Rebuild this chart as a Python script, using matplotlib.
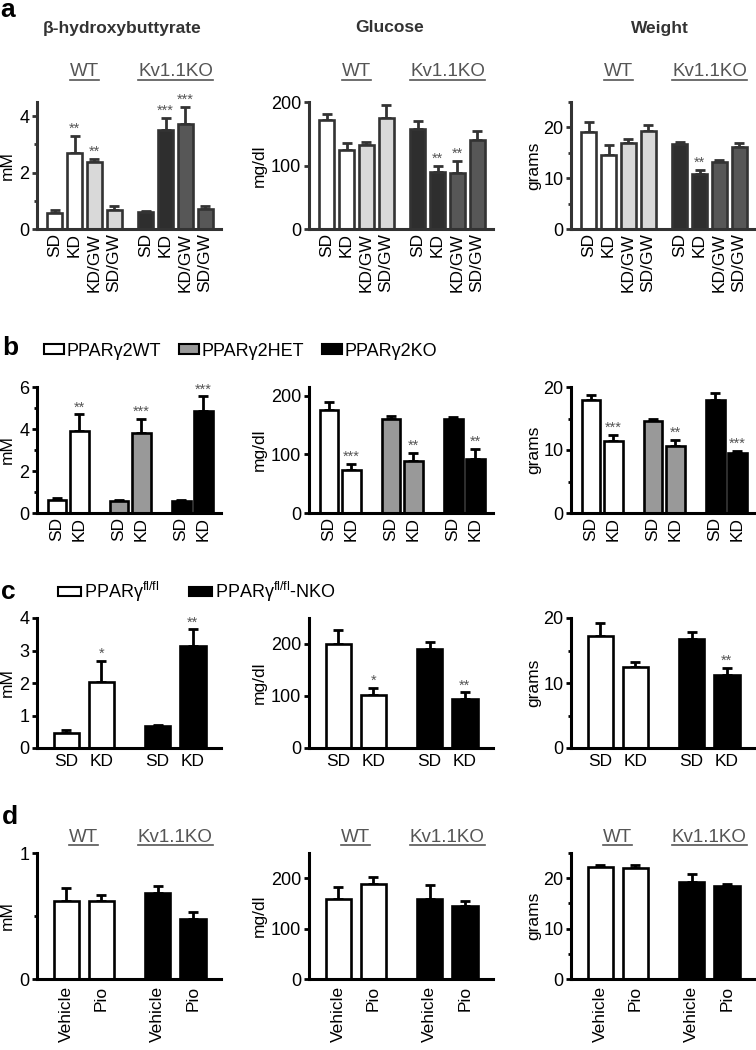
import numpy as np
import matplotlib
matplotlib.use("Agg")
import matplotlib.pyplot as plt
import matplotlib.transforms as mtransforms
from matplotlib.patches import Patch
from matplotlib.lines import Line2D

plt.rcParams['font.family'] = ['Liberation Sans', 'DejaVu Sans']
plt.rcParams['mathtext.default'] = 'regular'

# ---------------- data ----------------
# row a: WT vs Kv1.1KO on four diets
diet_labels = ['SD', 'KD', 'KD/GW', 'SD/GW', 'SD', 'KD', 'KD/GW', 'SD/GW']
bhb_a = [0.58, 2.7, 2.38, 0.68, 0.6, 3.5, 3.72, 0.72]
bhb_a_err = [0.08, 0.6, 0.1, 0.12, 0.05, 0.43, 0.6, 0.1]
glu_a = [171, 124, 132, 175, 157, 89, 88, 140]
glu_a_err = [10, 11, 5, 20, 13, 10, 19, 14]
wt_a = [19.1, 14.5, 16.9, 19.2, 16.7, 10.8, 13.1, 16.2]
wt_a_err = [1.9, 2.0, 0.9, 1.3, 0.5, 0.9, 0.4, 0.7]
stars_bhb_a = ['', '**', '**', '', '', '***', '***', '']
stars_glu_a = ['', '', '', '', '', '**', '**', '']
stars_wt_a = ['', '', '', '', '', '**', '', '']

# row b: PPARg2 WT / HET / KO, SD vs KD
pair_labels = ['SD', 'KD', 'SD', 'KD', 'SD', 'KD']
bhb_b = [0.62, 3.9, 0.55, 3.8, 0.57, 4.85]
bhb_b_err = [0.08, 0.8, 0.05, 0.7, 0.05, 0.7]
glu_b = [176, 73, 161, 88, 161, 92]
glu_b_err = [14, 11, 5, 15, 3, 18]
wt_b = [18.0, 11.5, 14.6, 10.7, 18.0, 9.6]
wt_b_err = [0.8, 0.9, 0.3, 0.9, 1.1, 0.3]
stars_bhb_b = ['', '**', '', '***', '', '***']
stars_glu_b = ['', '***', '', '**', '', '**']
stars_wt_b = ['', '***', '', '**', '', '***']
legend_b = ['PPARγ2WT', 'PPARγ2HET', 'PPARγ2KO']

# row c: PPARg fl/fl vs NKO, SD vs KD
diet_c = ['SD', 'KD', 'SD', 'KD']
bhb_c = [0.47, 2.03, 0.67, 3.15]
bhb_c_err = [0.07, 0.65, 0.04, 0.5]
glu_c = [200, 101, 191, 95]
glu_c_err = [27, 15, 12, 12]
wt_c = [17.3, 12.5, 16.8, 11.3]
wt_c_err = [1.9, 0.8, 1.0, 1.0]
stars_bhb_c = ['', '*', '', '**']
stars_glu_c = ['', '*', '', '**']
stars_wt_c = ['', '', '', '**']
legend_c = ['PPARγ$^{fl/fl}$', 'PPARγ$^{fl/fl}$-NKO']

# row d: WT vs Kv1.1KO, vehicle vs pioglitazone
treat_d = ['Vehicle', 'Pio', 'Vehicle', 'Pio']
bhb_d = [0.62, 0.62, 0.68, 0.48]
bhb_d_err = [0.1, 0.05, 0.06, 0.05]
glu_d = [159, 189, 159, 144]
glu_d_err = [23, 13, 27, 11]
wt_d = [22.2, 22.0, 19.3, 18.5]
wt_d_err = [0.5, 0.7, 1.6, 0.4]

# ---------------- layout ----------------
W, H = 756, 1050
fig = plt.figure(figsize=(W / 100, H / 100), dpi=100)

COL_LEFT = [37, 309, 571]
COL_W = 184
ROW_Y = [(102, 229), (387, 513), (618, 748), (853, 979)]
YLABEL_X = [-0.12, -0.23, -0.16]   # right edge of the rotated label
GRAY_TXT = '#555555'


def make_ax(row, col):
    top, bot = ROW_Y[row]
    return fig.add_axes([COL_LEFT[col] / W, 1 - bot / H, COL_W / W, (bot - top) / H])


def style_ax(ax, col, edge, ylim, major, minor, ylabel, xlim):
    for s in ['top', 'right']:
        ax.spines[s].set_visible(False)
    for s in ['left', 'bottom']:
        ax.spines[s].set_linewidth(2.2)
        ax.spines[s].set_color(edge)
    ax.set_ylim(*ylim)
    ax.set_xlim(*xlim)
    ax.set_yticks(major)
    ax.set_yticks(minor, minor=True)
    ax.tick_params(axis='y', which='both', direction='out', width=2, color=edge,
                   labelsize=13, pad=2)
    ax.tick_params(axis='y', which='major', length=3.5)
    ax.tick_params(axis='y', which='minor', length=2.5)
    ax.tick_params(axis='x', length=0, labelsize=12.5)
    ax.set_ylabel(ylabel, fontsize=12.5)
    ax.yaxis.set_label_coords(YLABEL_X[col], 0.5)


def draw_bars(ax, pos, vals, errs, fills, edge, width, stars=None):
    pos = np.asarray(pos, dtype=float)
    ax.errorbar(pos, vals, yerr=[np.zeros(len(vals)), errs], fmt='none',
                ecolor=edge, elinewidth=2, capsize=3.5, capthick=2, zorder=1)
    ax.bar(pos, vals, width=width, color=fills, edgecolor=edge, linewidth=1.9, zorder=2)
    if stars:
        for p, v, e, s in zip(pos, vals, errs, stars):
            if s:
                ax.annotate(s, (p, v + e), xytext=(0, 0), textcoords='offset points',
                            ha='center', va='bottom', fontsize=10.5, color=GRAY_TXT,
                            annotation_clip=False)


group_texts = []


def group_label(ax, x, ypix, txt, color):
    tr = mtransforms.blended_transform_factory(ax.transData, fig.transFigure)
    t = ax.text(x, 1 - ypix / H, txt, transform=tr, ha='center', va='center',
                fontsize=13.5, color=color)
    group_texts.append((t, color))


# ---------------- row a ----------------
pos_a = [0, 1, 2, 3, 4.6, 5.6, 6.6, 7.6]
fill_a = ['white', 'white', '#d9d9d9', '#d9d9d9', '#2e2e2e', '#2e2e2e', '#575757', '#575757']
edge_a = '#333333'
xlim_a = (-0.9, 8.4)
panels_a = [
    (bhb_a, bhb_a_err, stars_bhb_a, (0, 4.5), [0, 2, 4], [1, 3], 'mM'),
    (glu_a, glu_a_err, stars_glu_a, (0, 200), [0, 100, 200], [], 'mg/dl'),
    (wt_a, wt_a_err, stars_wt_a, (0, 25), [0, 10, 20], [5, 15, 25], 'grams'),
]
titles_a = ['β-hydroxybuttyrate', 'Glucose', 'Weight']
title_x = [122, 390, 660]
for col, (v, e, st, yl, mj, mn, lab) in enumerate(panels_a):
    ax = make_ax(0, col)
    draw_bars(ax, pos_a, v, e, fill_a, edge_a, 0.76, st)
    style_ax(ax, col, edge_a, yl, mj, mn, lab, xlim_a)
    ax.set_xticks(pos_a)
    ax.set_xticklabels(diet_labels, rotation=90, va='top', ha='center')
    ax.tick_params(axis='x', pad=3)
    group_label(ax, np.mean(pos_a[:4]), 72, 'WT', GRAY_TXT)
    group_label(ax, np.mean(pos_a[4:]), 72, 'Kv1.1KO', GRAY_TXT)
    fig.text(title_x[col] / W, 1 - 28 / H, titles_a[col], ha='center', va='center',
             fontsize=12.5, fontweight='bold', color='#333333')

# ---------------- row b ----------------
pos_b = [0, 1, 2.8, 3.8, 5.6, 6.6]
fill_b = ['white', 'white', '#999999', '#999999', 'black', 'black']
xlim_b = (-0.9, 7.4)
panels_b = [
    (bhb_b, bhb_b_err, stars_bhb_b, (0, 6), [0, 2, 4, 6], [1, 3, 5], 'mM'),
    (glu_b, glu_b_err, stars_glu_b, (0, 215), [0, 100, 200], [], 'mg/dl'),
    (wt_b, wt_b_err, stars_wt_b, (0, 20), [0, 10, 20], [5, 15], 'grams'),
]
for col, (v, e, st, yl, mj, mn, lab) in enumerate(panels_b):
    ax = make_ax(1, col)
    draw_bars(ax, pos_b, v, e, fill_b, 'black', 0.85, st)
    style_ax(ax, col, 'black', yl, mj, mn, lab, xlim_b)
    ax.set_xticks(pos_b)
    ax.set_xticklabels(pair_labels, rotation=90, va='top', ha='center')
    ax.tick_params(axis='x', pad=3)
handles_b = [Patch(facecolor=c, edgecolor='black', linewidth=1.5)
             for c in ['white', '#999999', 'black']]
fig.legend(handles_b, legend_b, loc='center left', bbox_to_anchor=(44 / W, 1 - 351 / H),
           ncol=3, frameon=False, fontsize=13, handlelength=1.1, handleheight=0.45,
           handletextpad=0.15, columnspacing=1.0, borderaxespad=0, borderpad=0)

# ---------------- row c ----------------
pos_c = [0, 1, 2.6, 3.6]
fill_c = ['white', 'white', 'black', 'black']
xlim_c = (-0.83, 4.4)
panels_c = [
    (bhb_c, bhb_c_err, stars_bhb_c, (0, 4), [0, 1, 2, 3, 4], [], 'mM'),
    (glu_c, glu_c_err, stars_glu_c, (0, 250), [0, 100, 200], [], 'mg/dl'),
    (wt_c, wt_c_err, stars_wt_c, (0, 20), [0, 10, 20], [5, 15], 'grams'),
]
for col, (v, e, st, yl, mj, mn, lab) in enumerate(panels_c):
    ax = make_ax(2, col)
    draw_bars(ax, pos_c, v, e, fill_c, 'black', 0.72, st)
    style_ax(ax, col, 'black', yl, mj, mn, lab, xlim_c)
    ax.set_xticks(pos_c)
    ax.set_xticklabels(diet_c)
    ax.tick_params(axis='x', pad=4)
handles_c = [Patch(facecolor=c, edgecolor='black', linewidth=1.5) for c in ['white', 'black']]
fig.legend(handles_c, legend_c, loc='center left', bbox_to_anchor=(58 / W, 1 - 592 / H),
           ncol=2, frameon=False, fontsize=13, handlelength=1.3, handleheight=0.45,
           handletextpad=0.15, columnspacing=1.6, borderaxespad=0, borderpad=0)

# ---------------- row d ----------------
panels_d = [
    (bhb_d, bhb_d_err, (0, 1), [0, 1], [0.5], 'mM'),
    (glu_d, glu_d_err, (0, 250), [0, 100, 200], [], 'mg/dl'),
    (wt_d, wt_d_err, (0, 25), [0, 10, 20], [5, 15, 25], 'grams'),
]
for col, (v, e, yl, mj, mn, lab) in enumerate(panels_d):
    ax = make_ax(3, col)
    draw_bars(ax, pos_c, v, e, fill_c, 'black', 0.72)
    style_ax(ax, col, 'black', yl, mj, mn, lab, xlim_c)
    ax.set_xticks(pos_c)
    ax.set_xticklabels(treat_d, rotation=90, va='top', ha='center')
    ax.tick_params(axis='x', pad=5)
    group_label(ax, np.mean(pos_c[:2]), 837, 'WT', GRAY_TXT)
    group_label(ax, np.mean(pos_c[2:]), 837, 'Kv1.1KO', GRAY_TXT)

# panel letters
for letter, x, y in [('a', 8, 10), ('b', 10, 348), ('c', 8, 592), ('d', 10, 817)]:
    fig.text(x / W, 1 - y / H, letter, ha='center', va='center', fontsize=19,
             fontweight='bold')

# underline the group labels
fig.canvas.draw()
inv = fig.transFigure.inverted()
for t, color in group_texts:
    bb = t.get_window_extent()
    (x0, y0), (x1, _) = inv.transform([[bb.x0, bb.y0 + 1], [bb.x1, bb.y1]])
    fig.add_artist(Line2D([x0, x1], [y0, y0], transform=fig.transFigure,
                          color=color, linewidth=1.2))

fig.savefig('out.png', dpi=100)
